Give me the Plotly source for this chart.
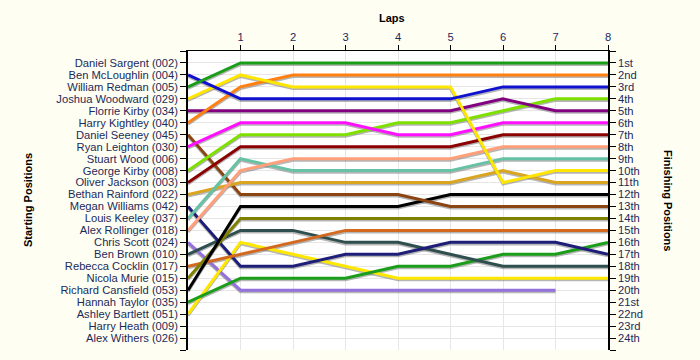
import plotly.graph_objects as go

laps = [0, 1, 2, 3, 4, 5, 6, 7, 8]
lap_labels = ["1", "2", "3", "4", "5", "6", "7", "8"]

grid_names = [
    "Daniel Sargent (002)", "Ben McLoughlin (004)", "William Redman (005)",
    "Joshua Woodward (029)", "Florrie Kirby (034)", "Harry Kightley (040)",
    "Daniel Seeney (045)", "Ryan Leighton (030)", "Stuart Wood (006)",
    "George Kirby (008)", "Oliver Jackson (003)", "Bethan Rainford (022)",
    "Megan Williams (042)", "Louis Keeley (037)", "Alex Rollinger (018)",
    "Chris Scott (024)", "Ben Brown (010)", "Rebecca Cocklin (017)",
    "Nicola Murie (015)", "Richard Cansfield (053)", "Hannah Taylor (035)",
    "Ashley Bartlett (051)", "Harry Heath (009)", "Alex Withers (026)",
]
finish_labels = ["1st", "2nd", "3rd", "4th", "5th", "6th", "7th", "8th", "9th",
                 "10th", "11th", "12th", "13th", "14th", "15th", "16th", "17th",
                 "18th", "19th", "20th", "21st", "22nd", "23rd", "24th"]

# positions per lap (lap 0 = starting grid)
ben_mcloughlin = [2, 4, 4, 4, 4, 4, 3, 3, 3]
william_redman = [3, 1, 1, 1, 1, 1, 1, 1, 1]
joshua_woodward = [4, 2, 3, 3, 3, 3, 11, 10, 10]
florrie_kirby = [5, 5, 5, 5, 5, 5, 4, 5, 5]
harry_kightley = [6, 3, 2, 2, 2, 2, 2, 2, 2]
daniel_seeney = [7, 12, 12, 12, 12, 13, 13, 13, 13]
ryan_leighton = [8, 6, 6, 6, 7, 7, 6, 6, 6]
george_kirby = [10, 7, 7, 7, 6, 6, 5, 4, 4]
oliver_jackson = [11, 8, 8, 8, 8, 8, 7, 7, 7]
bethan_rainford = [12, 11, 11, 11, 11, 11, 10, 11, 11]
megan_williams = [13, 18, 18, 17, 17, 16, 16, 16, 17]
louis_keeley = [14, 9, 10, 10, 10, 10, 9, 9, 9]
alex_rollinger = [15, 10, 9, 9, 9, 9, 8, 8, 8]
chris_scott = [16, 20, 20, 20, 20, 20, 20, 20, None]
ben_brown = [17, 15, 15, 16, 16, 17, 18, 18, 18]
rebecca_cocklin = [18, 17, 16, 15, 15, 15, 15, 15, 15]
nicola_murie = [19, 14, 14, 14, 14, 14, 14, 14, 14]
richard_cansfield = [20, 13, 13, 13, 13, 12, 12, 12, 12]
hannah_taylor = [21, 19, 19, 19, 18, 18, 17, 17, 16]
ashley_bartlett = [22, 16, 17, 18, 19, 19, 19, 19, 19]

series = [
    ("Chris Scott", chris_scott, "#9370DB"),
    ("Ashley Bartlett", ashley_bartlett, "#FFE800"),
    ("Hannah Taylor", hannah_taylor, "#1A9E1A"),
    ("Ben Brown", ben_brown, "#2F4F4F"),
    ("Megan Williams", megan_williams, "#1E1E78"),
    ("Rebecca Cocklin", rebecca_cocklin, "#D2691E"),
    ("Nicola Murie", nicola_murie, "#808000"),
    ("Richard Cansfield", richard_cansfield, "#000000"),
    ("Daniel Seeney", daniel_seeney, "#8B4513"),
    ("Bethan Rainford", bethan_rainford, "#DAA520"),
    ("Louis Keeley", louis_keeley, "#66C2A5"),
    ("Alex Rollinger", alex_rollinger, "#FFA07A"),
    ("Oliver Jackson", oliver_jackson, "#8B0000"),
    ("George Kirby", george_kirby, "#7FE000"),
    ("Ryan Leighton", ryan_leighton, "#FF10FF"),
    ("Florrie Kirby", florrie_kirby, "#800080"),
    ("Harry Kightley", harry_kightley, "#FF8010"),
    ("Joshua Woodward", joshua_woodward, "#FFE600"),
    ("Ben McLoughlin", ben_mcloughlin, "#1010D0"),
    ("William Redman", william_redman, "#1A9E1A"),
]

fig = go.Figure()
shadow_offset = 0.13
for name, ys, color in series:
    fig.add_trace(go.Scatter(
        x=laps, y=[None if v is None else v + shadow_offset for v in ys],
        mode="lines", line=dict(color="rgba(120,120,120,0.55)", width=3),
        hoverinfo="skip", showlegend=False))
for name, ys, color in series:
    fig.add_trace(go.Scatter(
        x=laps, y=ys, mode="lines", name=name,
        line=dict(color=color, width=3), showlegend=False))

# invisible trace to activate right axis
fig.add_trace(go.Scatter(x=[8], y=[1], yaxis="y2", mode="markers",
                         marker=dict(opacity=0), showlegend=False, hoverinfo="skip"))

tick_font = dict(family="Liberation Sans, Arial, sans-serif", size=11.2, color="#1A2A5A")
ypos = list(range(0, 26))
left_text = [""] + grid_names + [""]
right_text = [""] + finish_labels + [""]

L, R, T, B = 188, 92, 51, 10
fig.update_layout(
    width=700, height=360,
    margin=dict(l=L, r=R, t=T, b=B),
    paper_bgcolor="#FFFEF3", plot_bgcolor="#FFFFFF",
    showlegend=False,
    xaxis=dict(range=[0, 8], side="top", tickvals=[1, 2, 3, 4, 5, 6, 7, 8],
               ticktext=lap_labels, ticks="outside", ticklen=5, tickcolor="#000",
               showgrid=True, gridcolor="#E6E6E6", gridwidth=1,
               showline=True, linecolor="#000", linewidth=1, mirror=False,
               zeroline=False, tickfont=tick_font),
    yaxis=dict(range=[25, 0], tickvals=ypos, ticktext=left_text,
               ticks="outside", ticklen=6, tickcolor="#000",
               showgrid=True, gridcolor="#E6E6E6", gridwidth=1,
               showline=True, linecolor="#000", linewidth=1.5,
               zeroline=False, tickfont=tick_font),
    yaxis2=dict(range=[25, 0], tickvals=ypos, ticktext=right_text,
                overlaying="y", side="right", ticks="outside", ticklen=6,
                tickcolor="#000", showgrid=False, showline=True,
                linecolor="#000", linewidth=1.5, zeroline=False, tickfont=tick_font),
)

pw, ph = 700 - L - R, 360 - T - B
title_font = dict(family="Liberation Sans, Arial", size=11, color="#000")
for text, angle, px, py in [("<b>Laps</b>", 0, 392, 18),
                            ("<b>Starting Positions</b>", -90, 28, 200),
                            ("<b>Finishing Positions</b>", 90, 668, 200)]:
    fig.add_annotation(text=text, textangle=angle, showarrow=False,
                       xref="paper", yref="paper",
                       x=(px - L) / pw, y=1 - (py - T) / ph,
                       xanchor="center", yanchor="middle", font=title_font)

fig.write_html("out.html", config={"displayModeBar": False},
               post_script="document.body.style.margin='0';document.body.style.background='#FFFEF3';")
